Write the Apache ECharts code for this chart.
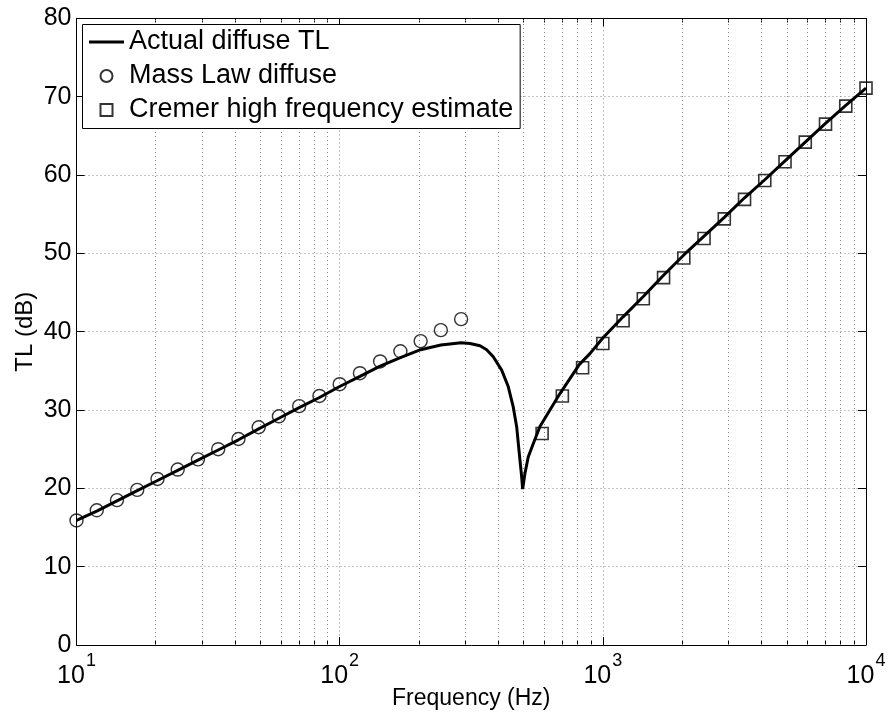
<!DOCTYPE html>
<html><head><meta charset="utf-8">
<script src="https://cdn.jsdelivr.net/npm/echarts@6/dist/echarts.min.js"></script>
<style>html,body{margin:0;padding:0;background:#fff}#c{width:891px;height:715px}</style>
</head><body><div id="c"></div>
<script>
// Mass law diffuse (circles)
const massFreq = [10, 11.94, 14.25, 17.01, 20.31, 24.24, 28.94, 34.55, 41.25, 49.24, 58.78, 70.17, 83.77, 100, 119.4, 142.5, 170.1, 203.1, 242.4, 289.4];
const massTL = [15.9, 17.2, 18.5, 19.8, 21.2, 22.4, 23.7, 25.0, 26.3, 27.8, 29.2, 30.5, 31.8, 33.3, 34.7, 36.2, 37.5, 38.8, 40.2, 41.6];
// Cremer high frequency estimate (squares)
const cremerFreq = [587.8, 701.7, 837.7, 1000, 1193.8, 1425.1, 1701.2, 2030.9, 2424.5, 2894.3, 3455.1, 4124.6, 4923.9, 5878.0, 7017.0, 8376.8, 10000];
const cremerTL = [27.0, 31.8, 35.4, 38.5, 41.4, 44.2, 46.9, 49.4, 51.9, 54.4, 56.9, 59.3, 61.7, 64.2, 66.5, 68.8, 71.1];
// Actual diffuse TL (line)
const actualFreq = [10, 11.94, 14.25, 17.01, 20.31, 24.24, 28.94, 34.55, 41.25, 49.24, 58.78, 70.17, 83.77, 100, 119.4, 142.5, 170.1, 203.1, 242.4, 289.4,
  312.7, 341.5, 361.9, 383.4, 412.6, 437.0, 456.6, 470.4, 481.3, 491.5, 495.8, 505.8, 520.6, 543.9, 576.8, 629.5, 687.1, 749.9, 813.5, 893.3,
  1000, 1193.8, 1425.1, 1701.2, 2030.9, 2424.5, 2894.3, 3455.1, 4124.6, 4923.9, 5878.0, 7017.0, 8376.8, 10000];
const actualTL = [15.9, 17.1, 18.4, 19.7, 21.0, 22.3, 23.6, 24.9, 26.2, 27.6, 28.95, 30.3, 31.6, 33.0, 34.3, 35.6, 36.7, 37.7, 38.3, 38.6,
  38.5, 38.2, 37.7, 36.8, 35.1, 33.0, 30.4, 27.9, 24.5, 21.5, 19.9, 21.9, 24.0, 25.7, 27.9, 30.0, 32.1, 34.0, 35.8, 37.2,
  39.2, 41.9, 44.5, 47.2, 49.8, 52.2, 54.6, 57.1, 59.4, 61.8, 64.2, 66.6, 68.9, 71.1];
// minor vertical grid positions (log axis)
const minorGridX = [20,30,40,50,60,70,80,90,200,300,400,500,600,700,800,900,2000,3000,4000,5000,6000,7000,8000,9000];
const seriesNames = ['Actual diffuse TL', 'Mass Law diffuse', 'Cremer high frequency estimate'];

const FONT = "'Liberation Sans', Arial, Helvetica, sans-serif";
const gridDot = {color: '#8a8a8a', width: 1, type: [1, 3]};
const chart = echarts.init(document.getElementById('c'), null, {renderer: 'canvas'});
const zip = (a, b) => a.map((v, i) => [v, b[i]]);

chart.setOption({
  animation: false,
  backgroundColor: '#fff',
  textStyle: {fontFamily: FONT},
  grid: {left: 76.5, right: 25, top: 18.4, bottom: 70, containLabel: false, outerBoundsMode: 'none'},
  legend: {
    data: [
      {name: seriesNames[0], icon: 'path://M0,0L36,0L36,3L0,3Z'},
      {name: seriesNames[1], icon: 'circle'},
      {name: seriesNames[2], icon: 'path://M0,0L10,0L10,10L0,10Z'}
    ],
    orient: 'vertical', left: 82.5, top: 24.5,
    itemWidth: 35, itemHeight: 12, itemGap: 7, symbolKeepAspect: true,
    backgroundColor: '#fff', borderColor: '#000', borderWidth: 1, borderRadius: 0,
    padding: [4, 7, 5, 6.5],
    textStyle: {fontSize: 27, color: '#000', fontFamily: FONT},
    selectedMode: false
  },
  xAxis: [{
    type: 'log', logBase: 10, min: 10, max: 10000, position: 'bottom',
    name: 'Frequency (Hz)', nameLocation: 'middle', nameGap: 42, nameMoveOverlap: false,
    nameTextStyle: {fontSize: 23, color: '#000', fontFamily: FONT},
    axisLine: {show: true, onZero: false, lineStyle: {color: '#000', width: 1}},
    axisTick: {show: true, inside: true, length: 8, lineStyle: {color: '#000'}},
    minorTick: {show: true, splitNumber: 9, length: 4, lineStyle: {color: '#000'}},
    splitLine: {show: true, lineStyle: gridDot},
    axisLabel: {
      margin: 19, color: '#000',
      formatter: v => '{b|10}{s|' + Math.round(Math.log10(v)) + '}',
      rich: {
        b: {fontSize: 25, lineHeight: 25, fontFamily: FONT, color: '#000', verticalAlign: 'bottom'},
        s: {fontSize: 18, lineHeight: 18, fontFamily: FONT, color: '#000', verticalAlign: 'bottom', padding: [0, 0, 18.5, 1]}
      }
    }
  }, {
    type: 'log', logBase: 10, min: 10, max: 10000, position: 'top',
    axisLine: {show: true, onZero: false, lineStyle: {color: '#000', width: 1}},
    axisTick: {show: true, inside: true, length: 8, lineStyle: {color: '#000'}},
    minorTick: {show: true, splitNumber: 9, length: 4, lineStyle: {color: '#000'}},
    axisLabel: {show: false}, splitLine: {show: false}
  }],
  yAxis: [{
    type: 'value', min: 0, max: 80, interval: 10, position: 'left',
    name: 'TL (dB)', nameLocation: 'middle', nameGap: 39, nameRotate: 90, nameMoveOverlap: false,
    nameTextStyle: {fontSize: 24, color: '#000', fontFamily: FONT},
    axisLine: {show: true, lineStyle: {color: '#000', width: 1}},
    axisTick: {show: true, inside: true, length: 8, lineStyle: {color: '#000'}},
    splitLine: {show: true, lineStyle: gridDot},
    axisLabel: {fontSize: 25, color: '#000', margin: 5, fontFamily: FONT}
  }, {
    type: 'value', min: 0, max: 80, interval: 10, position: 'right',
    axisLine: {show: true, lineStyle: {color: '#000', width: 1}},
    axisTick: {show: true, inside: true, length: 8, lineStyle: {color: '#000'}},
    axisLabel: {show: false}, splitLine: {show: false}
  }],
  series: [{
    name: seriesNames[0], type: 'line', xAxisIndex: 0, yAxisIndex: 0,
    data: zip(actualFreq, actualTL), symbol: 'none', smooth: false, z: 3,
    lineStyle: {color: '#000', width: 3}, itemStyle: {color: '#000'},
    markLine: {
      silent: true, symbol: 'none', label: {show: false},
      lineStyle: gridDot, z: 1,
      data: minorGridX.map(v => ({xAxis: v}))
    }
  }, {
    name: seriesNames[1], type: 'scatter', data: zip(massFreq, massTL),
    symbol: 'circle', symbolSize: 13, z: 4,
    itemStyle: {color: 'rgba(0,0,0,0)', borderColor: '#000', borderWidth: 1.4}
  }, {
    name: seriesNames[2], type: 'scatter', data: zip(cremerFreq, cremerTL),
    symbol: 'rect', symbolSize: 12, z: 4,
    itemStyle: {color: 'rgba(0,0,0,0)', borderColor: '#000', borderWidth: 1.6}
  }]
});
</script></body></html>
